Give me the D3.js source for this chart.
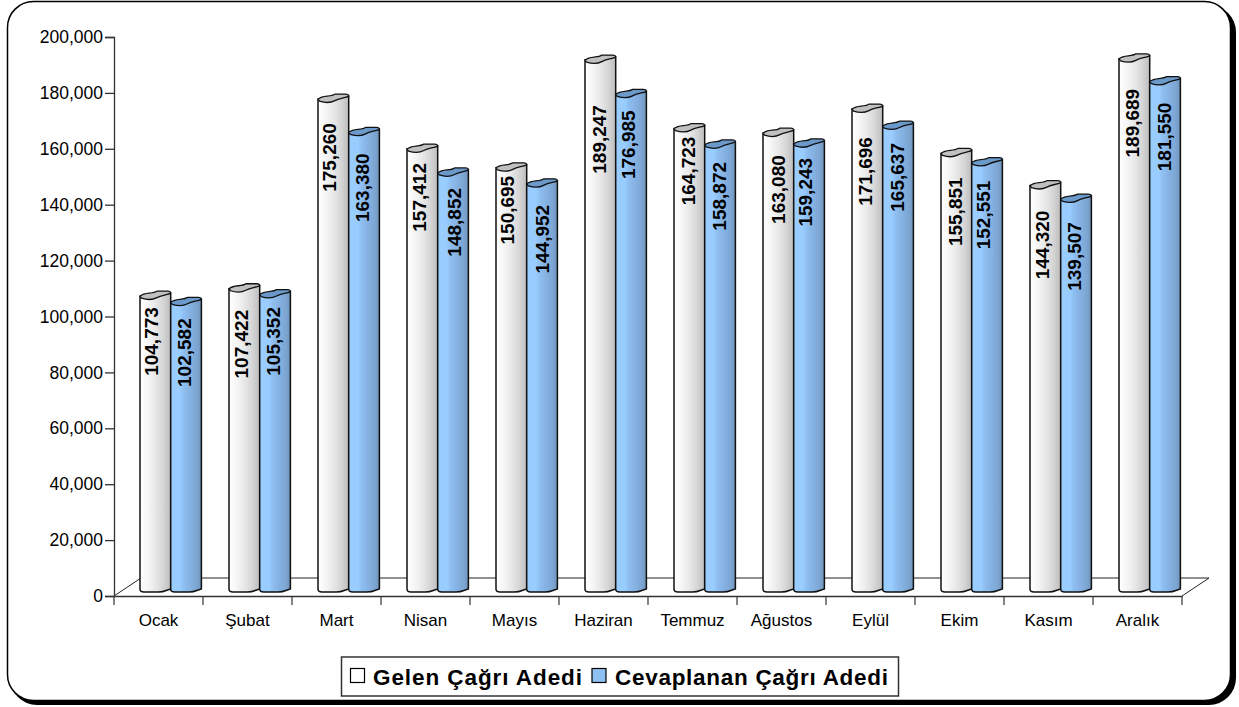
<!DOCTYPE html>
<html><head><meta charset="utf-8">
<script src="https://cdn.jsdelivr.net/npm/d3@7"></script>
<style>html,body{margin:0;padding:0;background:#fff}svg{display:block}text{font-family:"Liberation Sans",Arial,sans-serif;fill:#000}</style>
</head><body><svg id="c" width="1239" height="707"></svg>
<script>
const months = ["Ocak","Şubat","Mart","Nisan","Mayıs","Haziran","Temmuz","Ağustos","Eylül","Ekim","Kasım","Aralık"];
const gelen = [104773,107422,175260,157412,150695,189247,164723,163080,171696,155851,144320,189689];
const cevaplanan = [102582,105352,163380,148852,144952,176985,158872,159243,165637,152551,139507,181550];
const seriesNames = ["Gelen Çağrı Adedi","Cevaplanan Çağrı Adedi"];
const yTicks = [0,20000,40000,60000,80000,100000,120000,140000,160000,180000,200000];
// hand-placed data label nudges (px), separate from the data
const gelenLabelDown = [11,21,24,14,8,45,8,22,28,24,25,30];
const cevapLabelDown = [16,12.5,21,15,21,16,17,14,17,18,23,21];
const gelenLabelSide = [-4.5,-3.5,-4.5,-3.5,-4.5,-1.5,-1.5,-0.5,-2.5,-1.5,-3.5,-2.5];
const cevapLabelSide = [-1.5,-1.5,-1.5,1.5,0.5,-2.5,-0.5,-3.5,-0.5,-3.5,-1.5,-0.5];
const whiteStops = [[0,"#ffffff"],[.25,"#f6f6f6"],[.5,"#e8e8e8"],[.75,"#d6d6d6"],[1,"#bdbdbd"]];
const blueStops = [[0,"#99ccff"],[.3,"#99ccff"],[.45,"#8dbcee"],[.7,"#82aedd"],[.88,"#7ba3cf"],[1,"#6d92b8"]];

const svg = d3.select("#c");
const defs = svg.append("defs");
function grad(id, stops){
  const g = defs.append("linearGradient").attr("id",id).attr("x1",0).attr("x2",1).attr("y1",0).attr("y2",0);
  stops.forEach(s=>g.append("stop").attr("offset",s[0]).attr("stop-color",s[1]));
}
grad("gW",whiteStops); grad("gB",blueStops);

// frame
svg.append("rect").attr("x",10).attr("y",5).attr("width",1226).attr("height",700).attr("rx",27).attr("fill","#000");
svg.append("rect").attr("x",7.5).attr("y",1.5).attr("width",1223).attr("height",699).attr("rx",26).attr("fill","#fff").attr("stroke","#000").attr("stroke-width",1.5);

const y = d3.scaleLinear().domain([0,200000]).range([596,37]);
const x = d3.scaleBand().domain(months).range([114,1182]);
const dx = 27, dy = -18;

// floor
const g = svg.append("g");
g.append("path").attr("fill","none").attr("stroke","#222").attr("stroke-width",1)
 .attr("d",`M${x.range()[0]},${y(0)}l${dx},${dy}H${x.range()[1]+dx}l${-dx},${-dy}`);

// axes
const fmt = d3.format(",");
const yAxis = g.append("g").attr("transform",`translate(${x.range()[0]},0)`)
  .call(d3.axisLeft(y).tickValues(yTicks).tickFormat(fmt).tickSize(9).tickPadding(2));
const xAxis = g.append("g").attr("transform",`translate(0,${y(0)})`)
  .call(d3.axisBottom(x).tickSize(0).tickPadding(18));
[yAxis,xAxis].forEach(a=>{a.selectAll("path,line").attr("stroke","#333").attr("stroke-width",1.3);});
yAxis.selectAll("text").style("font-size","17.5px");
xAxis.selectAll("text").style("font-size","17px");
xAxis.selectAll(".bt").data(d3.range(13)).enter().append("line").attr("stroke","#333").attr("stroke-width",1.2)
  .attr("x1",i=>x.range()[0]+i*x.step()).attr("x2",i=>x.range()[0]+i*x.step()).attr("y1",0).attr("y2",9);

// bars
const barW = 30.7, off = 26, base = y(0)-7;
function drawSeries(vals, idx, fill, topFill, down, side){
  const s = svg.append("g");
  const sel = s.selectAll("g").data(vals).enter().append("g")
    .attr("transform",(d,i)=>`translate(${x(months[i])+off+idx*barW},0)`);
  sel.append("path").attr("fill",`url(#${fill})`).attr("stroke","#111").attr("stroke-width",1.5)
    .attr("d",d=>{const t=y(d)-7;const w=barW;
      return `M0,${t}V${base}Q0,${base+3} 4,${base+3}H${w*.6}Q${w*.75},${base+3} ${w*.85},${base+1.5}L${w},${base}V${t-3}Z`;});
  sel.append("path").attr("fill",topFill).attr("stroke","#111").attr("stroke-width",1.3)
    .attr("d",d=>{const t=y(d)-7;const w=barW;
      return `M0,${t}Q${w*.1},${t-2.5} ${w*.3},${t-3}T${w*.55},${t-5}H${w*.9}Q${w},${t-5} ${w},${t-3}C${w*.85},${t-1} ${w*.7},${t-1} ${w*.55},${t+1.5}S${w*.2},${t+3.5} ${w*.05},${t+2}L0,${t}Z`;});
  sel.append("text").attr("text-anchor","end").attr("dy","0.36em")
    .attr("transform",(d,i)=>`translate(${barW/2+side[i]},${y(d)-7+down[i]}) rotate(-90)`)
    .style("font-size","19px").style("font-weight","bold").text(fmt);
}
drawSeries(gelen,0,"gW","#c0c0c0",gelenLabelDown,gelenLabelSide);
drawSeries(cevaplanan,1,"gB","#6b99c9",cevapLabelDown,cevapLabelSide);

// legend
const lg = svg.append("g");
lg.append("rect").attr("x",341.5).attr("y",657).attr("width",557).attr("height",39).attr("fill","#fff").attr("stroke","#333").attr("stroke-width",1.5);
const items = [{sw:350.5,tx:373,len:209,fill:"#fff"},{sw:592,tx:615,len:273,fill:"#8fc0f2"}];
items.forEach((it,i)=>{
  lg.append("rect").attr("x",it.sw).attr("y",668.5).attr("width",14).attr("height",14).attr("fill",it.fill).attr("stroke","#000").attr("stroke-width",1.2);
  lg.append("text").attr("x",it.tx).attr("y",684.5).attr("textLength",it.len).attr("lengthAdjust","spacing")
    .style("font-size","22.5px").style("font-weight","bold").text(seriesNames[i]);
});
</script></body></html>
